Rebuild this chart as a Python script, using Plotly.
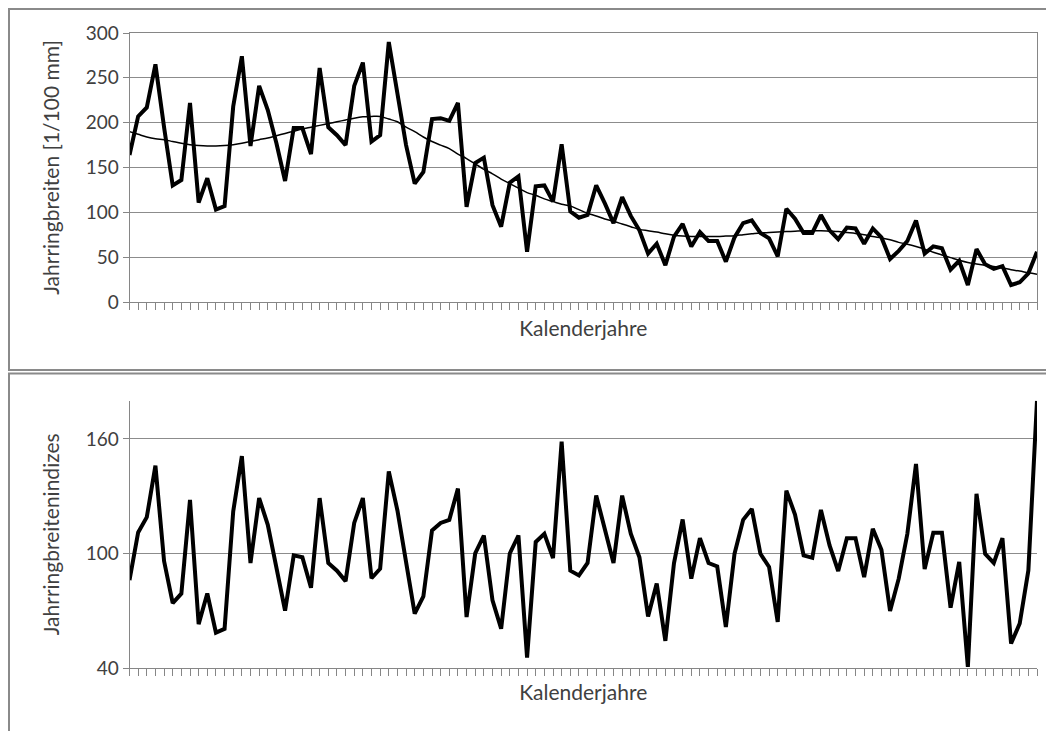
import plotly.graph_objects as go

# ---- data ----
years_idx = list(range(106))

ring_width = [164, 207, 217, 265, 195, 130, 136, 222, 111, 138, 103, 107, 218, 274, 174, 241,
              214, 177, 135, 194, 194, 165, 261, 195, 186, 175, 241, 267, 179, 186, 290, 235,
              175, 132, 145, 204, 205, 202, 222, 106, 155, 161, 108, 84, 133, 140, 56, 129,
              130, 112, 176, 101, 94, 97, 130, 110, 88, 117, 96, 80, 54, 65, 41, 73,
              87, 62, 78, 68, 68, 45, 72, 88, 91, 77, 71, 51, 104, 93, 77, 77,
              97, 80, 70, 83, 82, 65, 82, 72, 48, 57, 68, 91, 54, 62, 60, 36,
              46, 19, 59, 42, 37, 40, 19, 22, 32, 56]

trend = [190, 187, 184, 182, 181, 179, 177, 175.5, 174.5, 174, 174, 174.5, 175.5, 177, 179, 181,
         183, 185.5, 188, 190.5, 193, 195, 197, 199, 201, 203, 205, 206.5, 207, 207, 204, 201,
         195, 190, 184, 179, 175, 171, 165, 160, 154, 148, 143, 137, 132, 127, 122, 119,
         115, 112, 109, 107, 103, 99, 96, 92.5, 90, 87, 84, 81, 79.5, 78, 76, 74.5,
         73.5, 73, 73, 73, 73, 73.5, 74, 75, 76, 77, 77.5, 78, 78.5, 79, 79.5, 79.5,
         79.5, 79, 78.5, 77.5, 76.5, 75, 73, 71.5, 69.5, 66.5, 64.5, 62, 59, 55.5, 52.5, 49.5,
         46.5, 44, 42.5, 41, 39.5, 38, 36, 34.5, 32.5, 31]

index_vals = [86, 111, 119, 146, 96, 74, 79, 128, 63, 79, 58.5, 60.5, 122, 151, 95, 129,
              115, 92, 70, 99, 98, 82, 129, 95, 91, 85.5, 116, 129, 87, 92, 143, 122.5,
              94.6, 68.5, 77.5, 112, 116, 117.6, 134, 66.7, 100, 109.4, 75.4, 60.6, 100, 109.4,
              45.5, 106, 110.3, 97.6, 158.5, 91, 88.5, 95, 130.3, 113, 95, 130.3, 110.3, 98,
              67, 84.2, 54.2, 95, 117.8, 86.8, 108, 95, 93.2, 61.5, 99.8, 117.6, 123.3, 99.8,
              92.9, 64.1, 132.9, 120.4, 99, 97.7, 122.8, 104.2, 90.8, 108, 108, 87.6, 112.9,
              101.9, 69.9, 86.8, 110.3, 146.9, 91.8, 110.8, 110.8, 71.6, 95.6, 40.6, 131.2,
              99.8, 95, 108, 52.8, 63.3, 91.1, 180]

top_yticks = [0, 50, 100, 150, 200, 250, 300]
bottom_yticks = [40, 100, 160]

# ---- figure ----
W, H = 1054, 731
OFF = 8  # page body margin offset
FONT = "Lato"
AX = "#868686"
GRID = "#8c8c8c"
TXT = "#404040"
TICKSZ = 19
TITLESZ = 21


def px(x):
    return (x - OFF) / W


def py(y):
    return 1 - (y - OFF) / H


fig = go.Figure()
fig.add_trace(go.Scatter(x=years_idx, y=ring_width, mode="lines",
                         line=dict(color="black", width=4), xaxis="x", yaxis="y",
                         showlegend=False, hoverinfo="skip"))
fig.add_trace(go.Scatter(x=years_idx, y=trend, mode="lines",
                         line=dict(color="black", width=1.5, shape="spline"), xaxis="x", yaxis="y",
                         showlegend=False, hoverinfo="skip"))
fig.add_trace(go.Scatter(x=years_idx, y=index_vals, mode="lines",
                         line=dict(color="black", width=4), xaxis="x2", yaxis="y2",
                         showlegend=False, hoverinfo="skip", cliponaxis=True))

xdom = [px(129.5), px(1037)]
xcommon = dict(range=[0, 105], showgrid=False, zeroline=False, showline=True,
               linecolor=AX, linewidth=1, ticks="outside", tickmode="linear",
               tick0=0, dtick=1, ticklen=7, tickcolor=AX, tickwidth=1,
               showticklabels=False, fixedrange=True, automargin=False)

fig.update_layout(
    template="none",
    width=W, height=H, margin=dict(l=0, r=0, t=0, b=0, pad=0, autoexpand=False),
    paper_bgcolor="white", plot_bgcolor="white",
    font=dict(family=FONT, size=TICKSZ, color=TXT),
    showlegend=False,
    xaxis=dict(domain=xdom, anchor="y", mirror=True,
               title=dict(text="Kalenderjahre", standoff=12, font=dict(size=TITLESZ, color=TXT)),
               **xcommon),
    yaxis=dict(domain=[py(302), py(33)], anchor="x", range=[0, 300],
               tickvals=top_yticks, showgrid=True, gridcolor=GRID, gridwidth=1,
               zeroline=False, showline=True, linecolor=AX, mirror=True,
               ticks="outside", ticklen=6, tickcolor=AX, automargin=False,
               title=dict(text="Jahrringbreiten [1/100 mm]", standoff=20, font=dict(size=TITLESZ, color=TXT)),
               tickfont=dict(size=TICKSZ, color=TXT)),
    xaxis2=dict(domain=xdom, anchor="y2",
                title=dict(text="Kalenderjahre", standoff=10, font=dict(size=TITLESZ, color=TXT)),
                **xcommon),
    yaxis2=dict(domain=[py(668), py(400.7)], anchor="x2", range=[40, 180],
                tickvals=bottom_yticks, showgrid=True, gridcolor=GRID, gridwidth=1,
                zeroline=False, showline=True, linecolor=AX,
                ticks="outside", ticklen=6, tickcolor=AX, automargin=False,
                title=dict(text="Jahrringbreitenindizes", standoff=20, font=dict(size=TITLESZ, color=TXT)),
                tickfont=dict(size=TICKSZ, color=TXT)),
    shapes=[
        dict(type="rect", xref="paper", yref="paper", x0=px(9), x1=1.05, y0=py(370), y1=py(9),
             line=dict(color="#8a8a8a", width=2), layer="below"),
        dict(type="rect", xref="paper", yref="paper", x0=px(9), x1=1.05, y0=-0.05, y1=py(373.5),
             line=dict(color="#8a8a8a", width=2), layer="below"),
    ],
)

fig.write_html("out.html")
